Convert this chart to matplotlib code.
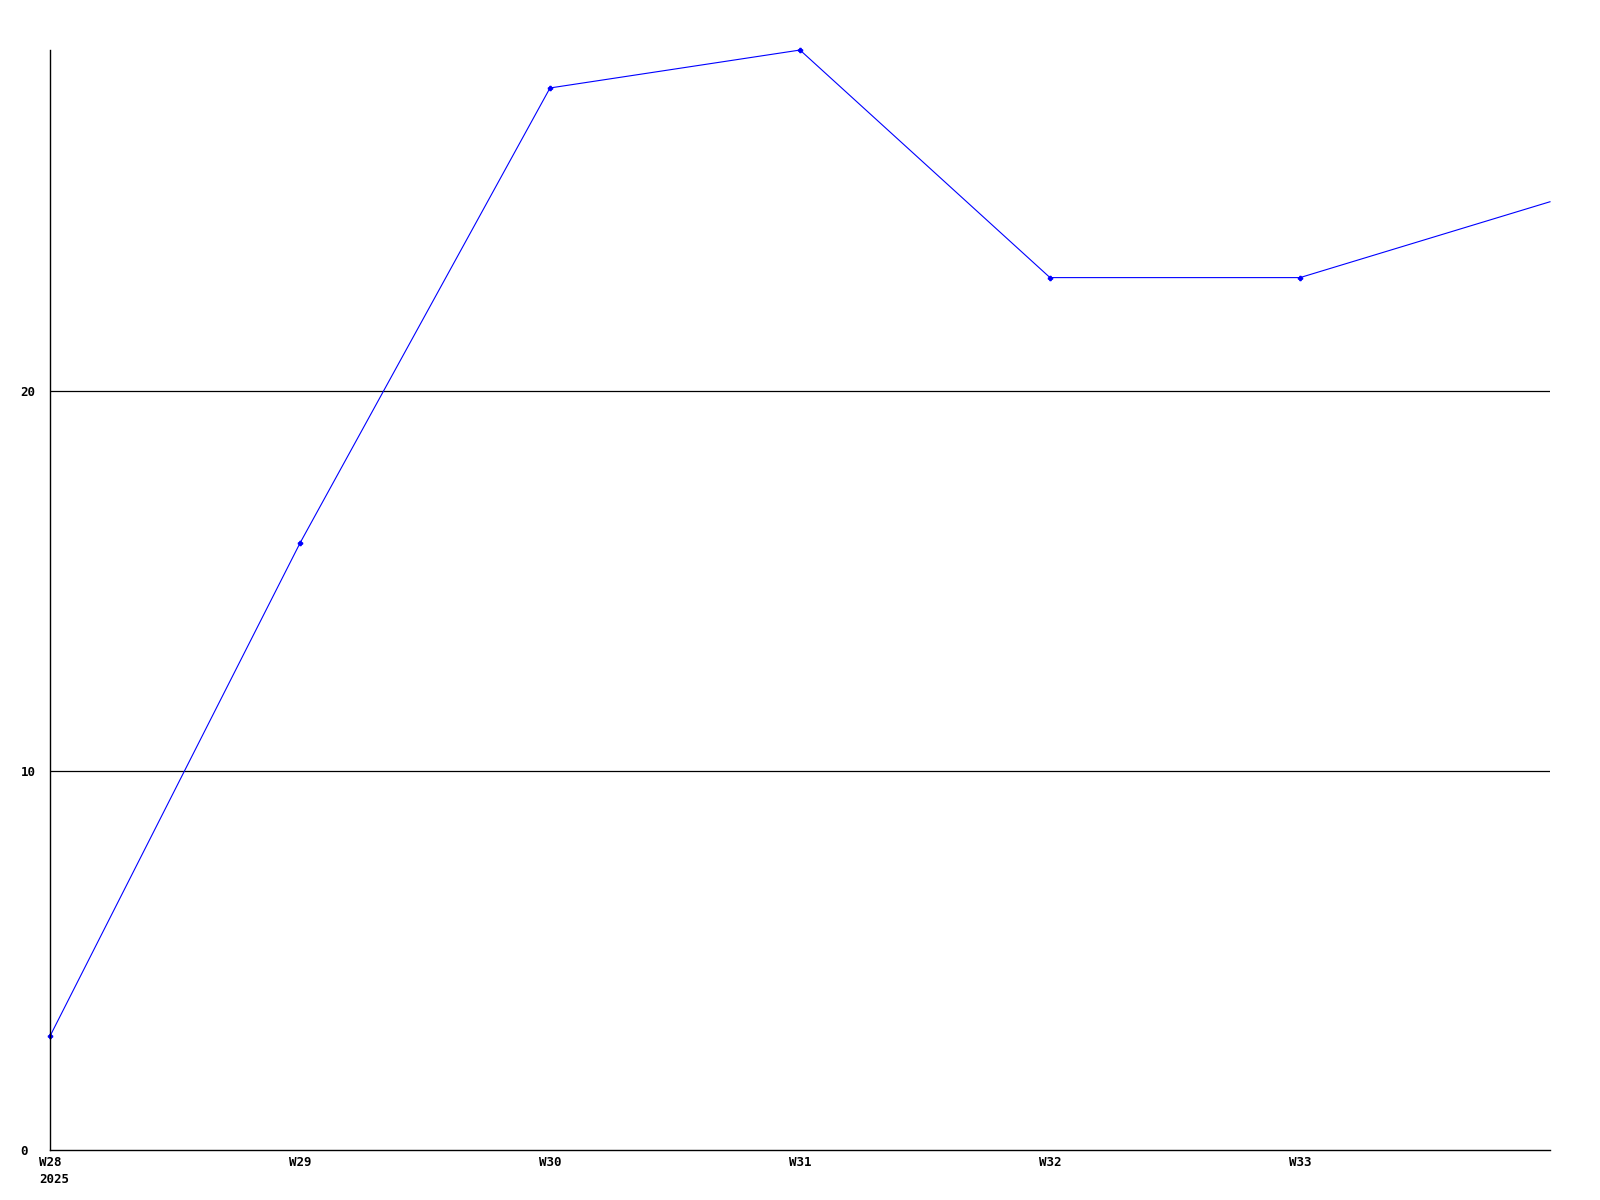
import numpy as np
import matplotlib
matplotlib.use('Agg')
import matplotlib.pyplot as plt
import matplotlib.transforms as mtransforms

weeks = ['W28', 'W29', 'W30', 'W31', 'W32', 'W33', 'W34']
values = [3, 16, 28, 29, 23, 23, 25]
year_label = '2025'
y_ticks = [0, 10, 20]

fig = plt.figure(figsize=(16, 12), dpi=100)
ax = fig.add_axes([0.03125, 0.0417, 0.9375, 0.9166])

x = np.arange(len(weeks))
ax.plot(x, values, color='#0000ff', linewidth=0.8, marker='P', markersize=3,
        markevery=list(range(len(weeks) - 1)), clip_on=False)

ax.set_xlim(0, len(weeks) - 1)
ax.set_ylim(0, 29)

# grid lines only at the labelled ticks
for yt in y_ticks[1:]:
    ax.axhline(yt, color='black', linewidth=0.9, zorder=0)

ax.set_yticks(y_ticks)
ax.set_yticklabels([str(v) for v in y_ticks])
ax.set_xticks(x[:-1])
ax.set_xticklabels(weeks[:-1])
ax.tick_params(length=0, labelsize=9)
ax.tick_params(axis='y', pad=21.3)
ax.tick_params(axis='x', pad=4)
for lab in ax.get_xticklabels() + ax.get_yticklabels():
    lab.set_family('DejaVu Sans Mono')
    lab.set_fontweight('bold')
for lab in ax.get_yticklabels():
    lab.set_horizontalalignment('left')

# year under the first week label, left aligned with it
off = mtransforms.ScaledTranslation(-11 / 100, 0, fig.dpi_scale_trans)
ax.text(0.0, -0.021, year_label, transform=ax.get_xaxis_transform() + off,
        ha='left', va='top', fontsize=9, family='DejaVu Sans Mono',
        fontweight='bold')

for side in ['top', 'right']:
    ax.spines[side].set_visible(False)
for side in ['left', 'bottom']:
    ax.spines[side].set_linewidth(1.0)

fig.savefig('out.png', dpi=100)
